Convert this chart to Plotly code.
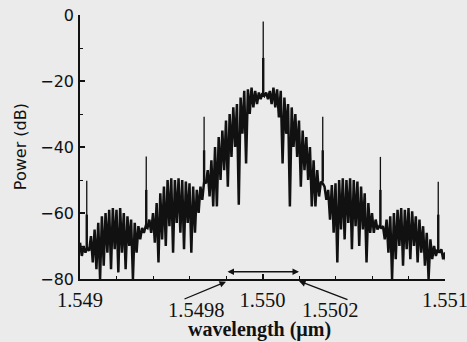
import numpy as np
import plotly.graph_objects as go

# ---- data ----
wl_start = 1.549          # first sample wavelength (um)
wl_step = 0.00002         # sample spacing (um)

# upper edge of the noisy spectrum at each sample (dB)
power_top = [
    -69, -70, -70.5, -67, -65, -63, -61, -60, -59, -58.5,
    -59, -58.5, -60, -61, -62, -63, -64, -64.5, -64, -62,
    -60, -57, -54, -52, -50, -49.5, -50, -49.5, -50, -50.5,
    -51, -52, -53, -52, -50.5, -47, -44, -40, -37, -35,
    -32, -30, -28, -27, -25, -23, -22.5, -22, -23, -23.5,
    -23.7, -23.5, -23, -22, -22.5, -23, -25, -27, -28, -30,
    -32, -35, -37, -40, -44, -47, -50.5, -52, -53, -51.5,
    -51, -50, -49.5, -50, -49.5, -50, -50.5, -52, -54, -57,
    -60, -62, -64, -64, -62, -61, -60, -59, -58.5, -59,
    -58.5, -59.5, -61, -62, -64, -66, -68, -70, -71, -71,
    -72,
]
# lower edge of the noisy spectrum at each sample (dB)
power_bottom = [
    -73, -72, -71.5, -75, -77, -80, -76, -72, -77, -71,
    -78, -72, -77, -70, -80, -72, -68, -66, -64.5, -66,
    -69, -75, -68, -70, -64, -72, -63, -66, -71, -63,
    -72, -66, -60, -56, -51, -55, -58, -58, -50, -47,
    -52, -43, -40, -57.5, -36, -45, -30, -28, -27, -25.5,
    -24.5, -25.5, -27, -28, -31, -45, -36, -58, -40, -43,
    -52, -47, -50, -58, -58, -55, -51, -56, -62, -66,
    -75, -65, -68, -63, -71, -64, -70, -65, -75, -66,
    -66, -65, -64.5, -68, -72, -80, -74, -70, -76, -71,
    -74, -70, -75, -72, -76, -80, -74, -73, -72, -74,
    -76,
]

# discrete spectral lines (sidebands)
spike_wl = [1.549037, 1.549363, 1.54968, 1.550004, 1.55033, 1.550646, 1.550963]
spike_top = [-50.2, -42.9, -30.8, -2.0, -30.8, -43.0, -50.5]
spike_shoulder = [-60.5, -53.0, -41.0, -13.0, -41.0, -53.0, -60.5]
spike_base = [-71.0, -64.0, -50.5, -23.7, -50.5, -64.0, -72.0]

# marked wavelengths
marker_wl = [1.5498, 1.5502]
marker_text = ["1.5498", "1.5502"]

x_ticks = [1.549, 1.550, 1.551]
x_ticktext = ["1.549", "1.550", "1.551"]

# ---- build traces ----
n = len(power_top)
wl = wl_start + wl_step * np.arange(n)
zx, zy = [], []
for i in range(n):
    zx += [wl[i], wl[i] + wl_step / 2]
    zy += [power_top[i], power_bottom[i]]

sx, sy, tx, ty = [], [], [], []
for w, t, s, b in zip(spike_wl, spike_top, spike_shoulder, spike_base):
    sx += [w, w, None]
    sy += [b, t, None]
    tx += [w, w, None]
    ty += [b, s, None]

ink = "#111111"
fig = go.Figure()
fig.add_trace(go.Scatter(x=zx, y=zy, mode="lines",
                         line=dict(color=ink, width=2.5), hoverinfo="skip"))
fig.add_trace(go.Scatter(x=sx, y=sy, mode="lines",
                         line=dict(color=ink, width=1.3), hoverinfo="skip"))
fig.add_trace(go.Scatter(x=tx, y=ty, mode="lines",
                         line=dict(color=ink, width=2.4), hoverinfo="skip"))

bg = "#ebebeb"
serif = "Liberation Serif"
fig.update_layout(
    width=467, height=342, autosize=False,
    margin=dict(l=80, r=22, t=15, b=63, autoexpand=False),
    paper_bgcolor=bg, plot_bgcolor=bg,
    showlegend=False,
    xaxis=dict(range=[1.549, 1.551], tickvals=x_ticks, ticktext=x_ticktext,
               automargin=False, ticklabelstandoff=2, ticklabeloverflow="allow",
               ticks="inside", ticklen=5, tickwidth=1.5, tickcolor=ink,
               showline=True, linecolor=ink, linewidth=1.6,
               showgrid=False, zeroline=False,
               tickfont=dict(family=serif, size=20.5, color=ink),
               minor=dict(tick0=1.549, dtick=0.0002, ticks="inside", ticklen=3,
                          tickwidth=1.2, tickcolor=ink, showgrid=False)),
    yaxis=dict(range=[-80, 0], tick0=0, dtick=20, automargin=False,
               ticklabeloverflow="allow",
               ticks="inside", ticklen=5, tickwidth=1.5, tickcolor=ink,
               showline=True, linecolor=ink, linewidth=1.6,
               showgrid=False, zeroline=False,
               tickfont=dict(family="DejaVu Sans", size=16, color=ink),
               ticklabelstandoff=1,
               minor=dict(dtick=10, ticks="inside", ticklen=3,
                          tickwidth=1.2, tickcolor=ink, showgrid=False)),
)

ann = []
txt = dict(showarrow=False, xanchor="center", yanchor="middle")
# labels below the axis for marked wavelengths
ann.append(dict(x=1.549638, y=-0.119, xref="x", yref="paper", text=marker_text[0],
                font=dict(family=serif, size=20.5, color=ink), **txt))
ann.append(dict(x=1.55037, y=-0.117, xref="x", yref="paper", text=marker_text[1],
                font=dict(family=serif, size=20.5, color=ink), **txt))
# arrows pointing to the marked wavelengths
ann.append(dict(x=marker_wl[0], y=-0.010, xref="x", yref="paper", text="",
                showarrow=True, ax=-43, ay=18, arrowhead=2, arrowsize=1,
                arrowwidth=1.3, arrowcolor=ink))
ann.append(dict(x=marker_wl[1], y=-0.008, xref="x", yref="paper", text="",
                showarrow=True, ax=50, ay=19, arrowhead=2, arrowsize=1,
                arrowwidth=1.3, arrowcolor=ink))
# double arrow spanning the marked band
ann.append(dict(x=marker_wl[1], y=-77.8, xref="x", yref="y", text="",
                axref="x", ayref="y", ax=marker_wl[0], ay=-77.8,
                showarrow=True, arrowside="end+start", arrowhead=2, startarrowhead=2,
                arrowsize=1, startarrowsize=1, arrowwidth=1.3, arrowcolor=ink))
# axis titles
ann.append(dict(x=0.493, y=-0.193, xref="paper", yref="paper",
                text="<b>wavelength (\u00b5m)</b>",
                font=dict(family=serif, size=20, color=ink), **txt))
ann.append(dict(x=-0.164, y=0.5, xref="paper", yref="paper",
                text="Power (dB)", textangle=-90,
                font=dict(family="DejaVu Sans", size=16, color=ink), **txt))
fig.update_layout(annotations=ann)

fig.write_html(
    "out.html",
    config={"displayModeBar": False},
    post_script="document.body.style.margin='0';"
                "document.body.style.background='#ebebeb';",
)
